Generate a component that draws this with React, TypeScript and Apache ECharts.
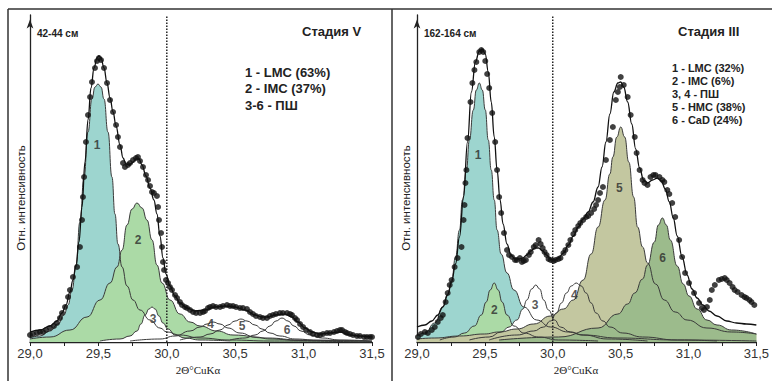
import React, { useEffect, useRef } from "react";
import * as echarts from "echarts";

// ---------- axes ----------
const X_MIN = 29.0;
const X_MAX = 31.5;
const X_STEP = 0.5;
const Y_MAX = 327;
const DIVIDER_X = 30.0;

// ---------- left panel (42-44 см, Стадия V) ----------
const leftDots: number[][] = [
  [29.0, 7], [29.022, 8], [29.051, 9], [29.073, 10], [29.095, 10], [29.117, 12], [29.146, 14], [29.175, 16],
  [29.197, 19], [29.219, 24], [29.234, 29], [29.256, 35], [29.278, 45], [29.292, 52], [29.314, 65], [29.344, 75],
  [29.365, 95], [29.38, 122], [29.387, 145], [29.395, 165], [29.409, 200], [29.424, 227], [29.439, 245], [29.453, 260],
  [29.475, 274], [29.49, 281], [29.504, 284], [29.519, 282], [29.541, 274], [29.563, 259], [29.585, 242], [29.607, 230],
  [29.629, 217], [29.643, 205], [29.658, 195], [29.68, 179], [29.694, 175], [29.716, 177], [29.731, 179], [29.753, 182],
  [29.775, 184], [29.789, 185], [29.804, 181], [29.826, 175], [29.848, 167], [29.863, 162], [29.877, 156], [29.892, 150],
  [29.906, 149], [29.928, 146], [29.936, 135], [29.943, 122], [29.958, 109], [29.965, 95], [29.972, 80], [29.98, 72],
  [29.994, 62], [30.009, 59], [30.023, 55], [30.038, 52], [30.06, 47], [30.075, 44], [30.096, 40], [30.111, 37],
  [30.133, 35], [30.148, 34], [30.17, 32], [30.192, 30], [30.214, 29], [30.243, 29], [30.265, 30], [30.279, 31],
  [30.301, 34], [30.316, 35], [30.338, 36], [30.36, 35], [30.389, 35], [30.411, 36], [30.44, 37], [30.462, 36],
  [30.484, 36], [30.506, 35], [30.535, 34], [30.557, 34], [30.586, 33], [30.608, 30], [30.63, 28], [30.652, 26],
  [30.681, 25], [30.703, 24], [30.732, 24], [30.754, 26], [30.776, 27], [30.798, 28], [30.827, 29], [30.849, 29],
  [30.879, 29], [30.901, 28], [30.915, 27], [30.937, 24], [30.952, 22], [30.974, 18], [30.996, 15], [31.018, 12],
  [31.047, 10], [31.069, 8], [31.098, 7], [31.12, 7], [31.142, 8], [31.171, 9], [31.193, 9], [31.222, 10],
  [31.244, 11], [31.266, 12], [31.281, 12], [31.303, 10], [31.317, 9], [31.339, 8], [31.361, 7], [31.39, 6],
  [31.412, 6], [31.442, 5], [31.463, 5], [31.485, 5], [31.5, 5],
];
const leftEnvelope: number[][] = [
  [29.0, 10], [29.073, 12], [29.146, 16], [29.197, 21], [29.234, 29], [29.263, 37], [29.292, 50], [29.314, 62],
  [29.336, 77], [29.358, 100], [29.38, 135], [29.402, 180], [29.424, 222], [29.446, 254], [29.468, 274], [29.49, 284],
  [29.504, 286], [29.519, 284], [29.541, 274], [29.563, 259], [29.585, 244], [29.607, 230], [29.629, 216], [29.658, 197],
  [29.68, 184], [29.702, 178], [29.724, 177], [29.746, 179], [29.775, 183], [29.797, 183], [29.819, 177], [29.848, 166],
  [29.877, 154], [29.906, 142], [29.928, 128], [29.95, 106], [29.972, 84], [29.994, 68], [30.023, 56], [30.06, 46],
  [30.096, 39], [30.148, 34], [30.206, 31], [30.279, 32], [30.352, 35], [30.425, 36], [30.499, 35], [30.572, 32],
  [30.645, 27], [30.696, 25], [30.74, 25], [30.791, 27], [30.864, 28], [30.915, 25], [30.959, 20], [31.01, 14],
  [31.061, 10], [31.12, 8], [31.193, 9], [31.266, 10], [31.339, 7], [31.412, 6], [31.5, 5],
];
const leftComp1: number[][] = [
  [29.0, 4], [29.073, 6], [29.146, 11], [29.205, 18], [29.249, 27], [29.278, 37], [29.307, 52], [29.336, 75],
  [29.365, 120], [29.395, 165], [29.424, 210], [29.453, 243], [29.475, 255], [29.497, 258], [29.519, 255], [29.541, 243],
  [29.57, 210], [29.599, 165], [29.621, 128], [29.643, 98], [29.673, 75], [29.709, 56], [29.753, 42], [29.804, 32],
  [29.877, 22], [29.95, 14], [30.001, 10], [30.096, 7], [30.243, 4], [30.462, 2], [30.754, 1], [31.5, 0],
];
const leftComp2: number[][] = [
  [29.0, 3], [29.146, 5], [29.292, 12], [29.417, 25], [29.512, 42], [29.585, 59], [29.636, 75], [29.673, 92],
  [29.709, 117], [29.746, 133], [29.782, 139], [29.819, 134], [29.855, 122], [29.892, 102], [29.928, 77], [29.965, 59],
  [30.023, 42], [30.096, 28], [30.17, 20], [30.243, 16], [30.367, 11], [30.484, 7], [30.732, 4], [30.974, 2], [31.5, 1],
];
const leftComp3: number[][] = [
  [29.512, 1], [29.658, 3], [29.731, 6], [29.782, 11], [29.811, 18], [29.841, 27], [29.87, 33], [29.892, 35],
  [29.914, 33], [29.943, 26], [29.972, 19], [30.009, 13], [30.06, 7], [30.133, 4], [30.243, 2], [30.462, 1],
];
const leftComp4: number[][] = [
  [29.731, 1], [29.95, 3], [30.06, 6], [30.17, 11], [30.243, 15], [30.294, 18], [30.338, 20], [30.389, 18],
  [30.447, 14], [30.535, 9], [30.645, 5], [30.754, 3], [30.974, 1.5], [31.266, 1],
];
const leftComp5: number[][] = [
  [30.096, 2], [30.243, 5], [30.316, 8], [30.389, 12], [30.447, 17], [30.499, 21], [30.542, 23], [30.586, 21],
  [30.645, 17], [30.696, 13], [30.754, 9], [30.827, 6], [30.937, 3], [31.12, 1.5], [31.5, 0.5],
];
const leftComp6: number[][] = [
  [30.462, 2], [30.572, 4], [30.645, 7], [30.703, 11], [30.754, 16], [30.798, 21], [30.842, 24], [30.886, 21],
  [30.93, 16], [30.981, 11], [31.047, 7], [31.135, 4], [31.266, 2], [31.5, 1],
];
const leftPeakLabels = [
  { name: "1", value: [29.49, 197] },
  { name: "2", value: [29.79, 102] },
  { name: "3", value: [29.9, 23] },
  { name: "4", value: [30.32, 18] },
  { name: "5", value: [30.55, 16] },
  { name: "6", value: [30.88, 12] },
];
const leftDepth = "42-44 см";
const leftStage = "Стадия V";
const leftLegend = ["1 - LMC (63%)", "2 - IMC (37%)", "3-6 - ПШ"];

// ---------- right panel (162-164 см, Стадия III) ----------
const rightDots: number[][] = [
  [29.007, 5], [29.029, 8], [29.058, 10], [29.08, 9], [29.109, 12], [29.131, 15], [29.153, 20], [29.175, 24],
  [29.19, 27], [29.211, 40], [29.226, 49], [29.241, 57], [29.255, 62], [29.277, 75], [29.299, 84], [29.328, 95],
  [29.343, 122], [29.35, 137], [29.357, 159], [29.364, 172], [29.372, 204], [29.394, 240], [29.408, 259], [29.423, 272],
  [29.437, 280], [29.459, 290], [29.474, 292], [29.488, 290], [29.503, 281], [29.517, 268], [29.532, 254], [29.554, 229],
  [29.576, 200], [29.59, 172], [29.605, 145], [29.62, 129], [29.641, 109], [29.663, 92], [29.678, 87], [29.7, 85],
  [29.722, 82], [29.736, 82], [29.758, 84], [29.773, 80], [29.787, 81], [29.802, 82], [29.824, 87], [29.838, 90],
  [29.86, 95], [29.875, 97], [29.896, 102], [29.911, 98], [29.926, 94], [29.94, 90], [29.955, 87], [29.969, 83],
  [29.984, 82], [30.006, 81], [30.02, 82], [30.042, 83], [30.057, 84], [30.079, 89], [30.093, 92], [30.115, 97],
  [30.13, 102], [30.152, 108], [30.166, 112], [30.188, 116], [30.203, 119], [30.224, 122], [30.246, 125], [30.261, 126],
  [30.283, 129], [30.305, 133], [30.319, 137], [30.334, 142], [30.348, 149], [30.37, 155], [30.392, 182], [30.421, 202],
  [30.443, 215], [30.465, 242], [30.48, 250], [30.494, 255], [30.501, 265], [30.523, 257], [30.552, 245], [30.574, 227],
  [30.604, 205], [30.618, 189], [30.64, 172], [30.662, 162], [30.676, 159], [30.698, 157], [30.72, 165], [30.742, 167],
  [30.757, 167], [30.786, 165], [30.808, 162], [30.822, 160], [30.844, 152], [30.859, 148], [30.88, 139], [30.902, 125],
  [30.931, 102], [30.953, 85], [30.975, 69], [31.004, 59], [31.041, 49], [31.078, 39], [31.099, 34], [31.114, 32],
  [31.136, 35], [31.157, 42], [31.172, 52], [31.194, 57], [31.224, 62], [31.245, 63], [31.267, 64], [31.282, 62],
  [31.303, 59], [31.325, 55], [31.34, 52], [31.362, 50], [31.391, 47], [31.413, 45], [31.427, 44], [31.449, 42],
  [31.464, 40], [31.485, 37],
];
const rightEnvelope: number[][] = [
  [29.0, 15], [29.058, 17], [29.109, 21], [29.153, 27], [29.19, 35], [29.226, 47], [29.255, 60], [29.284, 78],
  [29.313, 105], [29.343, 145], [29.372, 200], [29.401, 250], [29.43, 280], [29.459, 291], [29.481, 293], [29.503, 288],
  [29.525, 270], [29.547, 240], [29.569, 205], [29.59, 172], [29.612, 142], [29.634, 118], [29.663, 98], [29.692, 87],
  [29.722, 83], [29.751, 83], [29.78, 84], [29.809, 87], [29.838, 91], [29.867, 94], [29.896, 94], [29.926, 91],
  [29.955, 87], [29.984, 83], [30.013, 82], [30.042, 84], [30.079, 89], [30.115, 97], [30.152, 106], [30.188, 115],
  [30.224, 123], [30.261, 130], [30.297, 140], [30.334, 155], [30.363, 175], [30.392, 200], [30.421, 228], [30.45, 250],
  [30.48, 259], [30.501, 260], [30.523, 255], [30.552, 240], [30.582, 218], [30.611, 193], [30.64, 174], [30.669, 162],
  [30.698, 159], [30.735, 162], [30.771, 164], [30.8, 161], [30.829, 153], [30.859, 140], [30.888, 124], [30.917, 106],
  [30.953, 85], [30.99, 67], [31.026, 53], [31.063, 44], [31.107, 37], [31.151, 31], [31.21, 26], [31.282, 21],
  [31.354, 19], [31.427, 18], [31.5, 17],
];
const rightComp1: number[][] = [
  [29.0, 6], [29.058, 9], [29.131, 19], [29.19, 35], [29.226, 48], [29.255, 62], [29.284, 85], [29.313, 112],
  [29.335, 142], [29.364, 172], [29.386, 202], [29.415, 232], [29.437, 252], [29.459, 259], [29.481, 252], [29.503, 232],
  [29.525, 202], [29.547, 172], [29.569, 142], [29.59, 112], [29.62, 88], [29.663, 69], [29.714, 52], [29.787, 35],
  [29.882, 22], [29.984, 15], [30.115, 10], [30.224, 7], [30.48, 4], [30.917, 2], [31.5, 1],
];
const rightComp2: number[][] = [
  [29.168, 2], [29.277, 5], [29.35, 9], [29.423, 16], [29.474, 27], [29.51, 40], [29.539, 52], [29.569, 59],
  [29.598, 52], [29.627, 40], [29.663, 27], [29.714, 16], [29.787, 9], [29.896, 5], [30.042, 2], [30.334, 1],
];
const rightComp3: number[][] = [
  [29.386, 2], [29.532, 5], [29.62, 10], [29.678, 15], [29.736, 22], [29.78, 33], [29.809, 42], [29.845, 53],
  [29.875, 57], [29.904, 53], [29.933, 42], [29.969, 32], [30.013, 22], [30.057, 15], [30.13, 10], [30.224, 7],
  [30.407, 3], [30.698, 1],
];
const rightComp4: number[][] = [
  [29.532, 2], [29.736, 7], [29.86, 11], [29.933, 15], [29.984, 21], [30.028, 29], [30.064, 39], [30.101, 49],
  [30.137, 56], [30.173, 59], [30.21, 56], [30.246, 49], [30.283, 39], [30.319, 29], [30.37, 21], [30.421, 15],
  [30.516, 9], [30.662, 5], [30.917, 2], [31.21, 1],
];
const rightComp5: number[][] = [
  [29.0, 3], [29.131, 4], [29.313, 6], [29.496, 8], [29.605, 10], [29.736, 13], [29.86, 18], [29.984, 26],
  [30.079, 33], [30.152, 42], [30.224, 62], [30.283, 88], [30.334, 115], [30.385, 142], [30.421, 168], [30.443, 185],
  [30.472, 205], [30.501, 215], [30.53, 205], [30.56, 180], [30.596, 145], [30.625, 115], [30.662, 95], [30.698, 79],
  [30.757, 58], [30.822, 42], [30.902, 30], [30.99, 22], [31.136, 14], [31.318, 10], [31.5, 8],
];
const rightComp6: number[][] = [
  [29.605, 2], [30.042, 5], [30.334, 14], [30.48, 28], [30.552, 38], [30.604, 49], [30.662, 63], [30.698, 77],
  [30.749, 100], [30.778, 117], [30.808, 124], [30.837, 117], [30.866, 102], [30.917, 76], [30.961, 58], [31.004, 46],
  [31.063, 33], [31.136, 22], [31.21, 17], [31.318, 12], [31.5, 8],
];
const rightPeakLabels = [
  { name: "1", value: [29.45, 187] },
  { name: "2", value: [29.57, 32] },
  { name: "3", value: [29.87, 37] },
  { name: "4", value: [30.16, 47] },
  { name: "5", value: [30.49, 154] },
  { name: "6", value: [30.81, 84] },
];
const rightDepth = "162-164 см";
const rightStage = "Стадия III";
const rightLegend = ["1 - LMC (32%)", "2 - IMC (6%)", "3, 4 - ПШ", "5 - HMC (38%)", "6 - CaD (24%)"];

const xTitle = "2Θ°CuKα";
const yTitle = "Отн. интенсивность";

// ---------- styles ----------
const TEAL = "#9dd5cf";
const GREEN = "#abdaa6";
const OLIVE = "#c3c7a0";
const DKGREEN = "#9cbb8c";
const WHITE = "#ffffff";
const OUTLINE = "#3a3a3a";
const INK = "#111111";
const SANS = "'Liberation Sans', Arial, sans-serif";
const SERIF = "'Liberation Serif', 'Times New Roman', serif";

function panelSeries(
  i: number,
  comps: number[][][],
  fills: (string | null)[],
  envelope: number[][],
  dots: number[][],
  labels: { name: string; value: number[] }[]
) {
  const s: any[] = [];
  const base = { xAxisIndex: i, yAxisIndex: i, silent: true };
  comps.forEach((c, k) => {
    if (fills[k]) {
      s.push({
        ...base,
        type: "line",
        data: c,
        smooth: 0.5,
        smoothMonotone: "x",
        symbol: "none",
        lineStyle: { width: 0, opacity: 0 },
        areaStyle: { color: fills[k], opacity: 1 },
        z: 1,
      });
    }
  });
  comps.forEach((c) => {
    s.push({
      ...base,
      type: "line",
      data: c,
      smooth: 0.5,
      smoothMonotone: "x",
      symbol: "none",
      lineStyle: { color: OUTLINE, width: 1 },
      z: 2,
    });
  });
  s.push({
    ...base,
    type: "line",
    data: [
      [DIVIDER_X, 0],
      [DIVIDER_X, Y_MAX],
    ],
    symbol: "none",
    lineStyle: { color: "#222", width: 1.5, type: [1.5, 1.5] },
    z: 3,
  });
  s.push({
    ...base,
    type: "line",
    data: envelope,
    smooth: 0.4,
    smoothMonotone: "x",
    symbol: "none",
    lineStyle: { color: INK, width: 1.3 },
    z: 4,
  });
  s.push({
    ...base,
    type: "scatter",
    data: dots,
    symbol: "circle",
    symbolSize: 6,
    itemStyle: { color: INK },
    z: 5,
  });
  s.push({
    ...base,
    type: "scatter",
    data: labels,
    symbolSize: 1,
    itemStyle: { color: "rgba(0,0,0,0)" },
    label: {
      show: true,
      position: "inside",
      formatter: (p: any) => p.name,
      fontFamily: SANS,
      fontWeight: "bold",
      fontSize: 12,
      color: "#2a2a2a",
    },
    z: 6,
  });
  return s;
}

function xAxis(i: number) {
  return {
    type: "value",
    gridIndex: i,
    min: X_MIN,
    max: X_MAX,
    interval: X_STEP,
    axisLine: { show: true, onZero: false, lineStyle: { color: "#222", width: 1.3 } },
    axisTick: { show: true, length: 4, lineStyle: { color: "#222", width: 1 } },
    minorTick: { show: true, splitNumber: 2, length: 4, lineStyle: { color: "#222", width: 1 } },
    splitLine: { show: false },
    minorSplitLine: { show: false },
    axisLabel: {
      formatter: (v: number) => v.toFixed(1).replace(".", ","),
      color: "#333",
      fontSize: 13,
      fontFamily: SANS,
      margin: 5,
      showMinLabel: true,
      showMaxLabel: true,
    },
  };
}

function yAxis(i: number) {
  return {
    type: "value",
    gridIndex: i,
    min: 0,
    max: Y_MAX,
    axisLine: {
      show: true,
      onZero: false,
      symbol: ["none", "arrow"],
      symbolSize: [5, 9],
      symbolOffset: [0, -4.5],
      lineStyle: { color: "#222", width: 1.3 },
    },
    axisTick: { show: false },
    axisLabel: { show: false },
    splitLine: { show: false },
  };
}

function txt(text: string, x: number, y: number, font: string, align = "left", extra: any = {}) {
  return {
    type: "text",
    x,
    y,
    silent: true,
    ...extra,
    style: { text, font, fill: "#222", textAlign: align, textVerticalAlign: "middle" },
  };
}

export default function App() {
  const ref = useRef<HTMLDivElement>(null);
  useEffect(() => {
    if (!ref.current) return;
    const chart = echarts.init(ref.current, null, { renderer: "svg" });
    const graphics: any[] = [
      { type: "line", shape: { x1: 8, y1: 9, x2: 772, y2: 9 }, style: { stroke: "#333", lineWidth: 1.5 }, silent: true },
      { type: "line", shape: { x1: 8, y1: 9, x2: 8, y2: 381 }, style: { stroke: "#333", lineWidth: 1.5 }, silent: true },
      { type: "line", shape: { x1: 392, y1: 9, x2: 392, y2: 381 }, style: { stroke: "#333", lineWidth: 1.5 }, silent: true },
      txt(leftDepth, 37, 33, `bold 10px ${SANS}`),
      txt(rightDepth, 424, 33, `bold 10px ${SANS}`),
      txt(leftStage, 302, 31, `bold 13px ${SANS}`),
      txt(rightStage, 678, 31, `bold 13px ${SANS}`),
      txt(xTitle, 198, 370, `11px ${SERIF}`, "center"),
      txt(xTitle, 576, 370, `11px ${SERIF}`, "center"),
      txt(yTitle, 21, 198, `11.5px ${SANS}`, "center", { rotation: Math.PI / 2 }),
      txt(yTitle, 406, 198, `11.5px ${SANS}`, "center", { rotation: Math.PI / 2 }),
    ];
    leftLegend.forEach((t, k) => graphics.push(txt(t, 245, 72 + k * 16.5, `bold 13px ${SANS}`)));
    rightLegend.forEach((t, k) => graphics.push(txt(t, 672, 68 + k * 13, `bold 11px ${SANS}`)));

    chart.setOption({
      animation: false,
      backgroundColor: "#ffffff",
      grid: [
        { left: 30, top: 15, width: 342, height: 327 },
        { left: 417, top: 15, width: 343, height: 327 },
      ],
      xAxis: [xAxis(0), xAxis(1)],
      yAxis: [yAxis(0), yAxis(1)],
      graphic: graphics,
      series: [
        ...panelSeries(
          0,
          [leftComp1, leftComp2, leftComp3, leftComp4, leftComp5, leftComp6],
          [TEAL, GREEN, WHITE, null, null, null],
          leftEnvelope,
          leftDots,
          leftPeakLabels
        ),
        ...panelSeries(
          1,
          [rightComp1, rightComp2, rightComp3, rightComp4, rightComp5, rightComp6],
          [TEAL, GREEN, WHITE, WHITE, OLIVE, DKGREEN],
          rightEnvelope,
          rightDots,
          rightPeakLabels
        ),
      ],
    });
    return () => chart.dispose();
  }, []);
  return (
    <div
      ref={ref}
      style={{ position: "fixed", left: 0, top: 0, width: 772, height: 381, background: "#fff" }}
    />
  );
}
